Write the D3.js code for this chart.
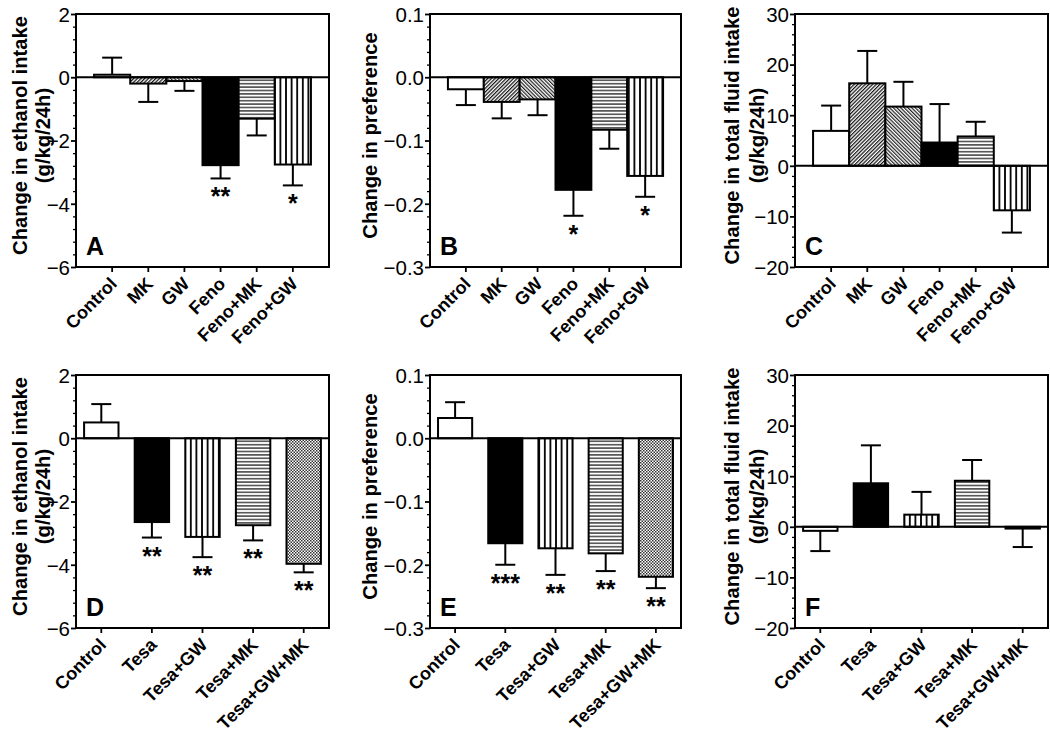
<!DOCTYPE html>
<html>
<head>
<meta charset="utf-8">
<script src="https://cdn.jsdelivr.net/npm/d3@7"></script>
<style>
  html, body { margin: 0; padding: 0; background: #fff; }
  svg { display: block; }
  text { font-family: "Liberation Sans", Arial, sans-serif; fill: #000; }
</style>
</head>
<body>
<svg id="chart" width="1050" height="733"></svg>
<script>
// ---------------- DATA ----------------
const catsTop = ["Control", "MK", "GW", "Feno", "Feno+MK", "Feno+GW"];
const catsBottom = ["Control", "Tesa", "Tesa+GW", "Tesa+MK", "Tesa+GW+MK"];

const ethanolA = [0.08, -0.2, -0.12, -2.78, -1.31, -2.76];
const ethanolAErr = [0.54, 0.58, 0.31, 0.42, 0.53, 0.66];
const sigA = ["", "", "", "**", "", "*"];

const prefB = [-0.019, -0.039, -0.035, -0.178, -0.083, -0.156];
const prefBErr = [0.025, 0.026, 0.025, 0.041, 0.030, 0.033];
const sigB = ["", "", "", "*", "", "*"];

const fluidC = [6.9, 16.3, 11.7, 4.6, 5.8, -8.8];
const fluidCErr = [5.0, 6.4, 4.9, 7.6, 2.9, 4.4];
const sigC = ["", "", "", "", "", ""];

const ethanolD = [0.5, -2.65, -3.12, -2.75, -3.97];
const ethanolDErr = [0.58, 0.49, 0.64, 0.48, 0.27];
const sigD = ["", "**", "**", "**", "**"];

const prefE = [0.032, -0.166, -0.174, -0.182, -0.219];
const prefEErr = [0.025, 0.034, 0.042, 0.028, 0.018];
const sigE = ["", "***", "**", "**", "**"];

const fluidF = [-0.8, 8.6, 2.4, 9.1, -0.35];
const fluidFErr = [4.0, 7.5, 4.5, 4.1, 3.65];
const sigF = ["", "", "", "", ""];

const ethanolTicks = [-6, -4, -2, 0, 2];
const prefTicks = [-0.3, -0.2, -0.1, 0.0, 0.1];
const fluidTicks = [-20, -10, 0, 10, 20, 30];

const ethanolLabel = ["Change in ethanol intake", "(g/kg/24h)"];
const prefLabel = ["Change in preference"];
const fluidLabel = ["Change in total fluid intake", "(g/kg/24h)"];

// ---------------- STYLE ----------------
const fillFor = {
  "Control": "#fff", "Feno": "#000", "Tesa": "#000",
  "MK": "url(#hatchR)", "GW": "url(#hatchL)",
  "Feno+MK": "url(#horiz)", "Tesa+MK": "url(#horiz)",
  "Feno+GW": "url(#vert)", "Tesa+GW": "url(#vert)",
  "Tesa+GW+MK": "url(#checker)"
};
const FONT = '"Liberation Sans", Arial, sans-serif';

const svg = d3.select("#chart");
svg.append("rect").attr("width", 1050).attr("height", 733).attr("fill", "#fff");

const defs = svg.append("defs");
function linePattern(id, w, h, transform, lines, sw) {
  const p = defs.append("pattern").attr("id", id)
    .attr("patternUnits", "userSpaceOnUse").attr("width", w).attr("height", h);
  if (transform) p.attr("patternTransform", transform);
  p.append("rect").attr("width", w).attr("height", h).attr("fill", "#fff");
  lines.forEach(l => p.append("line").attr("x1", l[0]).attr("y1", l[1]).attr("x2", l[2]).attr("y2", l[3])
    .attr("stroke", "#000").attr("stroke-width", sw));
}
linePattern("hatchR", 2.6, 3, "rotate(45)", [[0.65, 0, 0.65, 3]], 1.15);
linePattern("hatchL", 2.6, 3, "rotate(-45)", [[0.65, 0, 0.65, 3]], 1.05);
linePattern("vert", 5.6, 10, null, [[2.8, 0, 2.8, 10]], 1.8);
linePattern("horiz", 10, 3.4, null, [[0, 1.7, 10, 1.7]], 1.1);
{
  const p = defs.append("pattern").attr("id", "checker")
    .attr("patternUnits", "userSpaceOnUse").attr("width", 3).attr("height", 3);
  p.append("rect").attr("width", 3).attr("height", 3).attr("fill", "#fff");
  p.append("rect").attr("width", 1.5).attr("height", 1.5).attr("fill", "#333");
  p.append("rect").attr("x", 1.5).attr("y", 1.5).attr("width", 1.5).attr("height", 1.5).attr("fill", "#333");
}

// ---------------- PANELS ----------------
const colL = [76, 430, 795], colR = [329, 681, 1048];
const rowT = [14, 375], rowB = [267, 628];
const labelX = [[21, 44], [371], [733, 758]];

const panels = [
  { letter: "A", col: 0, row: 0, cats: catsTop, vals: ethanolA, errs: ethanolAErr, sig: sigA, ticks: ethanolTicks, fmt: d3.format("d"), label: ethanolLabel },
  { letter: "B", col: 1, row: 0, cats: catsTop, vals: prefB, errs: prefBErr, sig: sigB, ticks: prefTicks, fmt: d3.format(".1f"), label: prefLabel },
  { letter: "C", col: 2, row: 0, cats: catsTop, vals: fluidC, errs: fluidCErr, sig: sigC, ticks: fluidTicks, fmt: d3.format("d"), label: fluidLabel },
  { letter: "D", col: 0, row: 1, cats: catsBottom, vals: ethanolD, errs: ethanolDErr, sig: sigD, ticks: ethanolTicks, fmt: d3.format("d"), label: ethanolLabel },
  { letter: "E", col: 1, row: 1, cats: catsBottom, vals: prefE, errs: prefEErr, sig: sigE, ticks: prefTicks, fmt: d3.format(".1f"), label: prefLabel },
  { letter: "F", col: 2, row: 1, cats: catsBottom, vals: fluidF, errs: fluidFErr, sig: sigF, ticks: fluidTicks, fmt: d3.format("d"), label: fluidLabel }
];

panels.forEach(P => {
  const left = colL[P.col], right = colR[P.col], top = rowT[P.row], bottom = rowB[P.row];
  const w = right - left, h = bottom - top;
  const g = svg.append("g").attr("transform", `translate(${left},${top})`);

  const x = d3.scaleBand().domain(P.cats).range([0, w]);
  if (P.row === 0) x.paddingInner(0).paddingOuter(0.5);
  else x.paddingInner(0.32).paddingOuter(0.16);

  const ext = d3.extent(P.ticks);
  const y = d3.scaleLinear().domain(ext).range([h, 0]);

  // minor ticks
  const step = P.ticks[1] - P.ticks[0];
  const minors = [];
  for (let i = 0; i < P.ticks.length - 1; i++)
    for (let k = 1; k < 5; k++) minors.push(P.ticks[i] + step * k / 5);

  const minorAxis = g.append("g").call(d3.axisLeft(y).tickValues(minors).tickSize(3).tickFormat(""));
  minorAxis.select(".domain").remove();
  minorAxis.selectAll("line").attr("stroke-width", 1.3);

  const yAxis = g.append("g").call(d3.axisLeft(y).tickValues(P.ticks).tickSize(5).tickPadding(1).tickFormat(P.fmt));
  yAxis.select(".domain").remove();
  yAxis.selectAll("line").attr("stroke-width", 1.8);
  yAxis.selectAll("text").attr("font-size", 20.5).attr("dy", "0.36em")
    .style("font-family", FONT);

  const xAxis = g.append("g").attr("transform", `translate(0,${h})`)
    .call(d3.axisBottom(x).tickSize(5).tickSizeOuter(0));
  xAxis.select(".domain").remove();
  xAxis.selectAll("line").attr("stroke-width", 1.8);
  xAxis.selectAll("text")
    .attr("y", 0).attr("x", 0).attr("dy", 0)
    .attr("transform", "translate(6,18) rotate(-45)")
    .attr("text-anchor", "end")
    .attr("font-size", 18).attr("font-weight", "bold")
    .style("font-family", FONT);

  // bars
  g.selectAll("rect.bar").data(P.cats).enter().append("rect").attr("class", "bar")
    .attr("x", (c) => x(c))
    .attr("width", x.bandwidth())
    .attr("y", (c, i) => y(Math.max(0, P.vals[i])))
    .attr("height", (c, i) => Math.abs(y(P.vals[i]) - y(0)))
    .attr("fill", c => fillFor[c])
    .attr("stroke", "#000").attr("stroke-width", 2);

  // error bars
  P.cats.forEach((c, i) => {
    const v = P.vals[i], e = P.errs[i];
    const s = v >= 0 ? 1 : -1;
    const cx = x(c) + x.bandwidth() / 2;
    const y0 = y(v), y1 = y(v + s * e);
    g.append("line").attr("x1", cx).attr("x2", cx).attr("y1", y0).attr("y2", y1)
      .attr("stroke", "#000").attr("stroke-width", 2);
    g.append("line").attr("x1", cx - 10).attr("x2", cx + 10).attr("y1", y1).attr("y2", y1)
      .attr("stroke", "#000").attr("stroke-width", 2);
    if (P.sig[i]) {
      g.append("text").attr("x", cx).attr("y", y1 + 27)
        .attr("text-anchor", "middle").attr("font-size", 25).attr("font-weight", "bold")
        .text(P.sig[i]);
    }
  });

  // zero line
  g.append("line").attr("x1", 0).attr("x2", w).attr("y1", y(0)).attr("y2", y(0))
    .attr("stroke", "#000").attr("stroke-width", 2);

  // frame
  g.append("rect").attr("x", 0).attr("y", 0).attr("width", w).attr("height", h)
    .attr("fill", "none").attr("stroke", "#000").attr("stroke-width", 2);

  // panel letter
  g.append("text").attr("x", 10).attr("y", h - 12)
    .attr("font-size", 25).attr("font-weight", "bold").text(P.letter);

  // y label
  const cy = top + h / 2 - 5;
  P.label.forEach((t, k) => {
    svg.append("text")
      .attr("transform", `translate(${labelX[P.col][k]},${cy}) rotate(-90)`)
      .attr("dy", "0.3em")
      .attr("text-anchor", "middle")
      .attr("font-size", 20.2).attr("font-weight", "bold")
      .text(t);
  });
});
</script>
</body>
</html>
